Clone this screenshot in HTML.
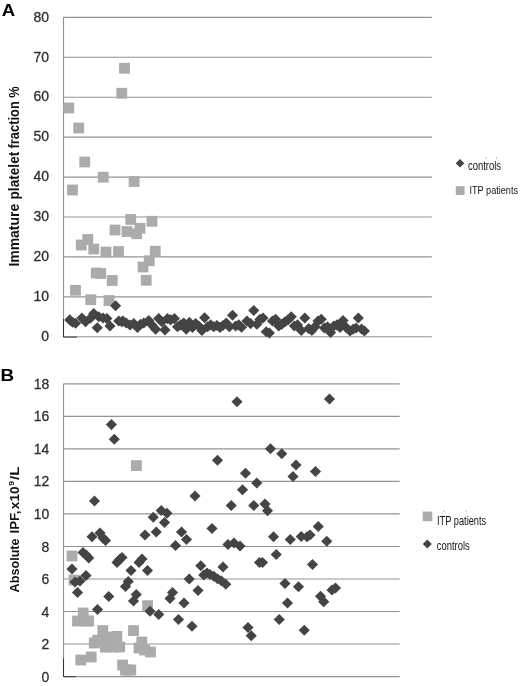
<!DOCTYPE html>
<html><head><meta charset="utf-8"><title>Figure</title>
<style>
html,body{margin:0;padding:0;background:#fff;}
body{width:520px;height:686px;overflow:hidden;font-family:"Liberation Sans",sans-serif;}
svg{display:block;}
text{font-family:"Liberation Sans",sans-serif;}
</style></head><body>
<svg width="520" height="686" viewBox="0 0 520 686">
<defs>
<filter id="tb" x="-5%" y="-5%" width="110%" height="110%" color-interpolation-filters="sRGB"><feGaussianBlur stdDeviation="0.35"/></filter>
<filter id="sb" x="-2%" y="-2%" width="104%" height="104%" color-interpolation-filters="sRGB"><feGaussianBlur stdDeviation="0.3"/></filter>
<filter id="db" x="-3%" y="-3%" width="106%" height="106%" color-interpolation-filters="sRGB"><feGaussianBlur stdDeviation="0.4"/></filter>
</defs>
<rect width="520" height="686" fill="#ffffff"/>

<g stroke="#949494" stroke-width="1.15" fill="none">
<line x1="63.5" y1="17.35" x2="431.8" y2="17.35"/>
<line x1="63.5" y1="57.28" x2="431.8" y2="57.28"/>
<line x1="63.5" y1="97.21" x2="431.8" y2="97.21"/>
<line x1="63.5" y1="137.14" x2="431.8" y2="137.14"/>
<line x1="63.5" y1="177.07" x2="431.8" y2="177.07"/>
<line x1="63.5" y1="217.00" x2="431.8" y2="217.00"/>
<line x1="63.5" y1="256.93" x2="431.8" y2="256.93"/>
<line x1="63.5" y1="296.86" x2="431.8" y2="296.86"/>
<line x1="63.5" y1="336.79" x2="431.8" y2="336.79"/>
<line x1="63.5" y1="17.35" x2="63.5" y2="336.8"/>
<line x1="63.5" y1="383.80" x2="399.7" y2="383.80"/>
<line x1="63.5" y1="416.33" x2="399.7" y2="416.33"/>
<line x1="63.5" y1="448.86" x2="399.7" y2="448.86"/>
<line x1="63.5" y1="481.39" x2="399.7" y2="481.39"/>
<line x1="63.5" y1="513.92" x2="399.7" y2="513.92"/>
<line x1="63.5" y1="546.45" x2="399.7" y2="546.45"/>
<line x1="63.5" y1="578.98" x2="399.7" y2="578.98"/>
<line x1="63.5" y1="611.51" x2="399.7" y2="611.51"/>
<line x1="63.5" y1="644.04" x2="399.7" y2="644.04"/>
<line x1="63.5" y1="676.57" x2="399.7" y2="676.57"/>
<line x1="63.5" y1="383.8" x2="63.5" y2="676.5"/>
</g>
<g stroke="#2a2a2a" stroke-width="0.9" fill="none">
<path d="M63.5 319V337.1H77"/>
<path d="M63.5 658.5V676.7H76"/>
</g>
<g fill="#ababab" filter="url(#db)">
<rect x="119.10" y="62.85" width="10.8" height="10.8"/>
<rect x="116.35" y="87.85" width="10.8" height="10.8"/>
<rect x="63.35" y="102.60" width="10.8" height="10.8"/>
<rect x="73.35" y="122.60" width="10.8" height="10.8"/>
<rect x="79.35" y="156.60" width="10.8" height="10.8"/>
<rect x="97.85" y="171.80" width="10.8" height="10.8"/>
<rect x="128.70" y="176.10" width="10.8" height="10.8"/>
<rect x="67.10" y="184.60" width="10.8" height="10.8"/>
<rect x="125.35" y="214.10" width="10.8" height="10.8"/>
<rect x="146.60" y="215.85" width="10.8" height="10.8"/>
<rect x="109.60" y="224.60" width="10.8" height="10.8"/>
<rect x="134.60" y="222.85" width="10.8" height="10.8"/>
<rect x="121.60" y="226.10" width="10.8" height="10.8"/>
<rect x="131.35" y="228.35" width="10.8" height="10.8"/>
<rect x="82.35" y="234.10" width="10.8" height="10.8"/>
<rect x="75.85" y="239.60" width="10.8" height="10.8"/>
<rect x="88.35" y="243.60" width="10.8" height="10.8"/>
<rect x="100.60" y="246.60" width="10.8" height="10.8"/>
<rect x="113.10" y="246.10" width="10.8" height="10.8"/>
<rect x="149.85" y="245.85" width="10.8" height="10.8"/>
<rect x="143.85" y="255.35" width="10.8" height="10.8"/>
<rect x="137.60" y="261.60" width="10.8" height="10.8"/>
<rect x="90.85" y="267.60" width="10.8" height="10.8"/>
<rect x="95.35" y="268.10" width="10.8" height="10.8"/>
<rect x="106.85" y="275.10" width="10.8" height="10.8"/>
<rect x="140.85" y="274.85" width="10.8" height="10.8"/>
<rect x="70.10" y="284.85" width="10.8" height="10.8"/>
<rect x="85.35" y="294.35" width="10.8" height="10.8"/>
<rect x="103.60" y="295.10" width="10.8" height="10.8"/>
</g>
<g fill="#444444" filter="url(#db)">
<path d="M69.75 314.35L75.30 319.90L69.75 325.45L64.20 319.90Z"/>
<path d="M72.60 316.65L78.15 322.20L72.60 327.75L67.05 322.20Z"/>
<path d="M75.60 317.75L81.15 323.30L75.60 328.85L70.05 323.30Z"/>
<path d="M81.90 312.45L87.45 318.00L81.90 323.55L76.35 318.00Z"/>
<path d="M85.60 316.20L91.15 321.75L85.60 327.30L80.05 321.75Z"/>
<path d="M90.60 312.45L96.15 318.00L90.60 323.55L85.05 318.00Z"/>
<path d="M93.75 308.05L99.30 313.60L93.75 319.15L88.20 313.60Z"/>
<path d="M97.25 322.20L102.80 327.75L97.25 333.30L91.70 327.75Z"/>
<path d="M98.75 311.20L104.30 316.75L98.75 322.30L93.20 316.75Z"/>
<path d="M103.00 312.45L108.55 318.00L103.00 323.55L97.45 318.00Z"/>
<path d="M106.90 313.05L112.45 318.60L106.90 324.15L101.35 318.60Z"/>
<path d="M110.00 320.45L115.55 326.00L110.00 331.55L104.45 326.00Z"/>
<path d="M115.60 300.20L121.15 305.75L115.60 311.30L110.05 305.75Z"/>
<path d="M118.75 315.45L124.30 321.00L118.75 326.55L113.20 321.00Z"/>
<path d="M123.00 315.45L128.55 321.00L123.00 326.55L117.45 321.00Z"/>
<path d="M121.90 316.20L127.45 321.75L121.90 327.30L116.35 321.75Z"/>
<path d="M126.25 317.45L131.80 323.00L126.25 328.55L120.70 323.00Z"/>
<path d="M130.00 319.45L135.55 325.00L130.00 330.55L124.45 325.00Z"/>
<path d="M133.75 318.05L139.30 323.60L133.75 329.15L128.20 323.60Z"/>
<path d="M137.50 321.85L143.05 327.40L137.50 332.95L131.95 327.40Z"/>
<path d="M140.60 318.70L146.15 324.25L140.60 329.80L135.05 324.25Z"/>
<path d="M143.75 317.45L149.30 323.00L143.75 328.55L138.20 323.00Z"/>
<path d="M148.75 314.95L154.30 320.50L148.75 326.05L143.20 320.50Z"/>
<path d="M151.90 319.35L157.45 324.90L151.90 330.45L146.35 324.90Z"/>
<path d="M155.60 323.70L161.15 329.25L155.60 334.80L150.05 329.25Z"/>
<path d="M158.75 313.05L164.30 318.60L158.75 324.15L153.20 318.60Z"/>
<path d="M161.90 316.20L167.45 321.75L161.90 327.30L156.35 321.75Z"/>
<path d="M165.00 324.35L170.55 329.90L165.00 335.45L159.45 329.90Z"/>
<path d="M167.50 313.05L173.05 318.60L167.50 324.15L161.95 318.60Z"/>
<path d="M170.60 314.35L176.15 319.90L170.60 325.45L165.05 319.90Z"/>
<path d="M174.40 313.05L179.95 318.60L174.40 324.15L168.85 318.60Z"/>
<path d="M177.50 321.20L183.05 326.75L177.50 332.30L171.95 326.75Z"/>
<path d="M180.60 319.35L186.15 324.90L180.60 330.45L175.05 324.90Z"/>
<path d="M183.75 317.45L189.30 323.00L183.75 328.55L178.20 323.00Z"/>
<path d="M186.25 323.70L191.80 329.25L186.25 334.80L180.70 329.25Z"/>
<path d="M189.40 316.85L194.95 322.40L189.40 327.95L183.85 322.40Z"/>
<path d="M192.50 321.85L198.05 327.40L192.50 332.95L186.95 327.40Z"/>
<path d="M195.60 318.05L201.15 323.60L195.60 329.15L190.05 323.60Z"/>
<path d="M198.75 320.45L204.30 326.00L198.75 331.55L193.20 326.00Z"/>
<path d="M201.90 324.95L207.45 330.50L201.90 336.05L196.35 330.50Z"/>
<path d="M204.60 312.20L210.15 317.75L204.60 323.30L199.05 317.75Z"/>
<path d="M207.50 321.20L213.05 326.75L207.50 332.30L201.95 326.75Z"/>
<path d="M210.60 319.35L216.15 324.90L210.60 330.45L205.05 324.90Z"/>
<path d="M213.75 321.20L219.30 326.75L213.75 332.30L208.20 326.75Z"/>
<path d="M216.90 319.95L222.45 325.50L216.90 331.05L211.35 325.50Z"/>
<path d="M220.00 321.85L225.55 327.40L220.00 332.95L214.45 327.40Z"/>
<path d="M223.00 319.95L228.55 325.50L223.00 331.05L217.45 325.50Z"/>
<path d="M226.25 317.45L231.80 323.00L226.25 328.55L220.70 323.00Z"/>
<path d="M229.40 321.20L234.95 326.75L229.40 332.30L223.85 326.75Z"/>
<path d="M232.50 309.70L238.05 315.25L232.50 320.80L226.95 315.25Z"/>
<path d="M235.60 320.45L241.15 326.00L235.60 331.55L230.05 326.00Z"/>
<path d="M238.75 319.35L244.30 324.90L238.75 330.45L233.20 324.90Z"/>
<path d="M241.50 321.65L247.05 327.20L241.50 332.75L235.95 327.20Z"/>
<path d="M246.90 315.45L252.45 321.00L246.90 326.55L241.35 321.00Z"/>
<path d="M250.60 318.05L256.15 323.60L250.60 329.15L245.05 323.60Z"/>
<path d="M253.75 304.95L259.30 310.50L253.75 316.05L248.20 310.50Z"/>
<path d="M256.90 318.70L262.45 324.25L256.90 329.80L251.35 324.25Z"/>
<path d="M260.00 313.70L265.55 319.25L260.00 324.80L254.45 319.25Z"/>
<path d="M263.00 312.45L268.55 318.00L263.00 323.55L257.45 318.00Z"/>
<path d="M266.25 326.20L271.80 331.75L266.25 337.30L260.70 331.75Z"/>
<path d="M269.40 327.45L274.95 333.00L269.40 338.55L263.85 333.00Z"/>
<path d="M272.50 315.45L278.05 321.00L272.50 326.55L266.95 321.00Z"/>
<path d="M275.60 313.70L281.15 319.25L275.60 324.80L270.05 319.25Z"/>
<path d="M278.75 320.45L284.30 326.00L278.75 331.55L273.20 326.00Z"/>
<path d="M281.90 318.70L287.45 324.25L281.90 329.80L276.35 324.25Z"/>
<path d="M285.00 316.20L290.55 321.75L285.00 327.30L279.45 321.75Z"/>
<path d="M288.00 314.35L293.55 319.90L288.00 325.45L282.45 319.90Z"/>
<path d="M291.25 311.20L296.80 316.75L291.25 322.30L285.70 316.75Z"/>
<path d="M294.40 320.45L299.95 326.00L294.40 331.55L288.85 326.00Z"/>
<path d="M297.50 319.35L303.05 324.90L297.50 330.45L291.95 324.90Z"/>
<path d="M301.25 324.95L306.80 330.50L301.25 336.05L295.70 330.50Z"/>
<path d="M304.80 312.45L310.35 318.00L304.80 323.55L299.25 318.00Z"/>
<path d="M308.75 323.05L314.30 328.60L308.75 334.15L303.20 328.60Z"/>
<path d="M311.90 324.95L317.45 330.50L311.90 336.05L306.35 330.50Z"/>
<path d="M315.00 321.20L320.55 326.75L315.00 332.30L309.45 326.75Z"/>
<path d="M318.00 315.45L323.55 321.00L318.00 326.55L312.45 321.00Z"/>
<path d="M321.25 313.70L326.80 319.25L321.25 324.80L315.70 319.25Z"/>
<path d="M324.40 322.45L329.95 328.00L324.40 333.55L318.85 328.00Z"/>
<path d="M327.50 321.20L333.05 326.75L327.50 332.30L321.95 326.75Z"/>
<path d="M330.60 326.85L336.15 332.40L330.60 337.95L325.05 332.40Z"/>
<path d="M333.75 320.45L339.30 326.00L333.75 331.55L328.20 326.00Z"/>
<path d="M336.90 319.35L342.45 324.90L336.90 330.45L331.35 324.90Z"/>
<path d="M340.00 321.85L345.55 327.40L340.00 332.95L334.45 327.40Z"/>
<path d="M343.00 314.95L348.55 320.50L343.00 326.05L337.45 320.50Z"/>
<path d="M346.25 322.05L351.80 327.60L346.25 333.15L340.70 327.60Z"/>
<path d="M350.00 325.45L355.55 331.00L350.00 336.55L344.45 331.00Z"/>
<path d="M353.00 323.70L358.55 329.25L353.00 334.80L347.45 329.25Z"/>
<path d="M356.00 322.45L361.55 328.00L356.00 333.55L350.45 328.00Z"/>
<path d="M358.30 312.45L363.85 318.00L358.30 323.55L352.75 318.00Z"/>
<path d="M361.50 323.45L367.05 329.00L361.50 334.55L355.95 329.00Z"/>
<path d="M364.40 325.45L369.95 331.00L364.40 336.55L358.85 331.00Z"/>
</g>
<g fill="#ababab" filter="url(#db)">
<rect x="66.60" y="550.60" width="10.8" height="10.8"/>
<rect x="68.60" y="574.60" width="10.8" height="10.8"/>
<rect x="72.10" y="615.60" width="10.8" height="10.8"/>
<rect x="75.30" y="654.60" width="10.8" height="10.8"/>
<rect x="77.80" y="607.60" width="10.8" height="10.8"/>
<rect x="80.60" y="615.60" width="10.8" height="10.8"/>
<rect x="83.30" y="615.60" width="10.8" height="10.8"/>
<rect x="85.80" y="651.60" width="10.8" height="10.8"/>
<rect x="88.90" y="637.60" width="10.8" height="10.8"/>
<rect x="92.20" y="634.80" width="10.8" height="10.8"/>
<rect x="94.60" y="635.60" width="10.8" height="10.8"/>
<rect x="97.40" y="625.20" width="10.8" height="10.8"/>
<rect x="100.10" y="641.80" width="10.8" height="10.8"/>
<rect x="102.60" y="631.60" width="10.8" height="10.8"/>
<rect x="105.60" y="639.60" width="10.8" height="10.8"/>
<rect x="108.60" y="641.60" width="10.8" height="10.8"/>
<rect x="111.40" y="631.00" width="10.8" height="10.8"/>
<rect x="114.30" y="641.60" width="10.8" height="10.8"/>
<rect x="117.20" y="659.60" width="10.8" height="10.8"/>
<rect x="120.10" y="664.60" width="10.8" height="10.8"/>
<rect x="122.60" y="664.60" width="10.8" height="10.8"/>
<rect x="125.40" y="664.60" width="10.8" height="10.8"/>
<rect x="128.10" y="625.20" width="10.8" height="10.8"/>
<rect x="131.00" y="460.20" width="10.8" height="10.8"/>
<rect x="133.60" y="642.60" width="10.8" height="10.8"/>
<rect x="136.40" y="636.60" width="10.8" height="10.8"/>
<rect x="139.10" y="644.60" width="10.8" height="10.8"/>
<rect x="142.20" y="600.20" width="10.8" height="10.8"/>
<rect x="145.10" y="646.60" width="10.8" height="10.8"/>
</g>
<g fill="#444444" filter="url(#db)">
<path d="M72.00 563.45L77.55 569.00L72.00 574.55L66.45 569.00Z"/>
<path d="M75.00 576.45L80.55 582.00L75.00 587.55L69.45 582.00Z"/>
<path d="M77.50 586.95L83.05 592.50L77.50 598.05L71.95 592.50Z"/>
<path d="M80.00 575.45L85.55 581.00L80.00 586.55L74.45 581.00Z"/>
<path d="M83.00 546.95L88.55 552.50L83.00 558.05L77.45 552.50Z"/>
<path d="M86.25 549.45L91.80 555.00L86.25 560.55L80.70 555.00Z"/>
<path d="M88.75 552.45L94.30 558.00L88.75 563.55L83.20 558.00Z"/>
<path d="M86.00 569.95L91.55 575.50L86.00 581.05L80.45 575.50Z"/>
<path d="M92.00 531.20L97.55 536.75L92.00 542.30L86.45 536.75Z"/>
<path d="M94.50 495.45L100.05 501.00L94.50 506.55L88.95 501.00Z"/>
<path d="M97.50 603.95L103.05 609.50L97.50 615.05L91.95 609.50Z"/>
<path d="M100.00 527.45L105.55 533.00L100.00 538.55L94.45 533.00Z"/>
<path d="M103.00 532.45L108.55 538.00L103.00 543.55L97.45 538.00Z"/>
<path d="M105.50 534.95L111.05 540.50L105.50 546.05L99.95 540.50Z"/>
<path d="M108.75 590.95L114.30 596.50L108.75 602.05L103.20 596.50Z"/>
<path d="M111.40 419.05L116.95 424.60L111.40 430.15L105.85 424.60Z"/>
<path d="M114.30 433.75L119.85 439.30L114.30 444.85L108.75 439.30Z"/>
<path d="M117.00 556.95L122.55 562.50L117.00 568.05L111.45 562.50Z"/>
<path d="M119.50 553.95L125.05 559.50L119.50 565.05L113.95 559.50Z"/>
<path d="M122.00 551.95L127.55 557.50L122.00 563.05L116.45 557.50Z"/>
<path d="M125.50 580.95L131.05 586.50L125.50 592.05L119.95 586.50Z"/>
<path d="M128.25 575.95L133.80 581.50L128.25 587.05L122.70 581.50Z"/>
<path d="M131.00 564.95L136.55 570.50L131.00 576.05L125.45 570.50Z"/>
<path d="M133.50 595.45L139.05 601.00L133.50 606.55L127.95 601.00Z"/>
<path d="M136.25 588.95L141.80 594.50L136.25 600.05L130.70 594.50Z"/>
<path d="M139.00 556.95L144.55 562.50L139.00 568.05L133.45 562.50Z"/>
<path d="M142.00 553.45L147.55 559.00L142.00 564.55L136.45 559.00Z"/>
<path d="M145.00 529.45L150.55 535.00L145.00 540.55L139.45 535.00Z"/>
<path d="M147.50 564.95L153.05 570.50L147.50 576.05L141.95 570.50Z"/>
<path d="M150.00 605.70L155.55 611.25L150.00 616.80L144.45 611.25Z"/>
<path d="M153.25 511.70L158.80 517.25L153.25 522.80L147.70 517.25Z"/>
<path d="M156.25 526.45L161.80 532.00L156.25 537.55L150.70 532.00Z"/>
<path d="M158.75 608.95L164.30 614.50L158.75 620.05L153.20 614.50Z"/>
<path d="M161.25 504.95L166.80 510.50L161.25 516.05L155.70 510.50Z"/>
<path d="M164.50 516.95L170.05 522.50L164.50 528.05L158.95 522.50Z"/>
<path d="M167.00 507.70L172.55 513.25L167.00 518.80L161.45 513.25Z"/>
<path d="M170.00 592.95L175.55 598.50L170.00 604.05L164.45 598.50Z"/>
<path d="M172.50 586.95L178.05 592.50L172.50 598.05L166.95 592.50Z"/>
<path d="M175.50 539.95L181.05 545.50L175.50 551.05L169.95 545.50Z"/>
<path d="M178.50 613.95L184.05 619.50L178.50 625.05L172.95 619.50Z"/>
<path d="M181.50 526.45L187.05 532.00L181.50 537.55L175.95 532.00Z"/>
<path d="M184.00 597.45L189.55 603.00L184.00 608.55L178.45 603.00Z"/>
<path d="M186.50 533.95L192.05 539.50L186.50 545.05L180.95 539.50Z"/>
<path d="M189.25 573.45L194.80 579.00L189.25 584.55L183.70 579.00Z"/>
<path d="M192.00 620.70L197.55 626.25L192.00 631.80L186.45 626.25Z"/>
<path d="M195.00 490.45L200.55 496.00L195.00 501.55L189.45 496.00Z"/>
<path d="M198.00 584.95L203.55 590.50L198.00 596.05L192.45 590.50Z"/>
<path d="M200.75 560.20L206.30 565.75L200.75 571.30L195.20 565.75Z"/>
<path d="M203.75 569.45L209.30 575.00L203.75 580.55L198.20 575.00Z"/>
<path d="M207.00 567.45L212.55 573.00L207.00 578.55L201.45 573.00Z"/>
<path d="M210.00 568.95L215.55 574.50L210.00 580.05L204.45 574.50Z"/>
<path d="M213.75 570.70L219.30 576.25L213.75 581.80L208.20 576.25Z"/>
<path d="M212.00 522.95L217.55 528.50L212.00 534.05L206.45 528.50Z"/>
<path d="M217.50 454.70L223.05 460.25L217.50 465.80L211.95 460.25Z"/>
<path d="M217.50 573.20L223.05 578.75L217.50 584.30L211.95 578.75Z"/>
<path d="M221.25 575.20L226.80 580.75L221.25 586.30L215.70 580.75Z"/>
<path d="M223.00 561.45L228.55 567.00L223.00 572.55L217.45 567.00Z"/>
<path d="M225.75 578.70L231.30 584.25L225.75 589.80L220.20 584.25Z"/>
<path d="M228.00 538.95L233.55 544.50L228.00 550.05L222.45 544.50Z"/>
<path d="M231.25 499.95L236.80 505.50L231.25 511.05L225.70 505.50Z"/>
<path d="M234.00 537.45L239.55 543.00L234.00 548.55L228.45 543.00Z"/>
<path d="M237.00 396.20L242.55 401.75L237.00 407.30L231.45 401.75Z"/>
<path d="M240.00 540.45L245.55 546.00L240.00 551.55L234.45 546.00Z"/>
<path d="M242.50 484.20L248.05 489.75L242.50 495.30L236.95 489.75Z"/>
<path d="M245.50 467.70L251.05 473.25L245.50 478.80L239.95 473.25Z"/>
<path d="M248.00 621.95L253.55 627.50L248.00 633.05L242.45 627.50Z"/>
<path d="M251.25 630.20L256.80 635.75L251.25 641.30L245.70 635.75Z"/>
<path d="M253.75 499.95L259.30 505.50L253.75 511.05L248.20 505.50Z"/>
<path d="M256.75 477.45L262.30 483.00L256.75 488.55L251.20 483.00Z"/>
<path d="M259.50 556.95L265.05 562.50L259.50 568.05L253.95 562.50Z"/>
<path d="M262.50 556.95L268.05 562.50L262.50 568.05L256.95 562.50Z"/>
<path d="M265.00 498.45L270.55 504.00L265.00 509.55L259.45 504.00Z"/>
<path d="M267.50 505.20L273.05 510.75L267.50 516.30L261.95 510.75Z"/>
<path d="M270.50 443.20L276.05 448.75L270.50 454.30L264.95 448.75Z"/>
<path d="M273.50 531.20L279.05 536.75L273.50 542.30L267.95 536.75Z"/>
<path d="M276.25 548.95L281.80 554.50L276.25 560.05L270.70 554.50Z"/>
<path d="M279.25 613.95L284.80 619.50L279.25 625.05L273.70 619.50Z"/>
<path d="M281.75 448.20L287.30 453.75L281.75 459.30L276.20 453.75Z"/>
<path d="M285.00 577.95L290.55 583.50L285.00 589.05L279.45 583.50Z"/>
<path d="M287.50 597.45L293.05 603.00L287.50 608.55L281.95 603.00Z"/>
<path d="M290.25 533.95L295.80 539.50L290.25 545.05L284.70 539.50Z"/>
<path d="M293.00 470.95L298.55 476.50L293.00 482.05L287.45 476.50Z"/>
<path d="M296.00 459.45L301.55 465.00L296.00 470.55L290.45 465.00Z"/>
<path d="M298.50 581.20L304.05 586.75L298.50 592.30L292.95 586.75Z"/>
<path d="M301.25 530.95L306.80 536.50L301.25 542.05L295.70 536.50Z"/>
<path d="M304.25 624.70L309.80 630.25L304.25 635.80L298.70 630.25Z"/>
<path d="M307.00 531.20L312.55 536.75L307.00 542.30L301.45 536.75Z"/>
<path d="M310.00 529.45L315.55 535.00L310.00 540.55L304.45 535.00Z"/>
<path d="M312.50 558.95L318.05 564.50L312.50 570.05L306.95 564.50Z"/>
<path d="M315.50 465.95L321.05 471.50L315.50 477.05L309.95 471.50Z"/>
<path d="M318.25 520.95L323.80 526.50L318.25 532.05L312.70 526.50Z"/>
<path d="M320.50 590.70L326.05 596.25L320.50 601.80L314.95 596.25Z"/>
<path d="M323.75 596.20L329.30 601.75L323.75 607.30L318.20 601.75Z"/>
<path d="M326.75 535.70L332.30 541.25L326.75 546.80L321.20 541.25Z"/>
<path d="M329.50 393.45L335.05 399.00L329.50 404.55L323.95 399.00Z"/>
<path d="M332.00 584.45L337.55 590.00L332.00 595.55L326.45 590.00Z"/>
<path d="M335.50 582.45L341.05 588.00L335.50 593.55L329.95 588.00Z"/>
</g>
<g fill="#2c2c2c" font-size="14.8" text-anchor="end" filter="url(#tb)" stroke="#2c2c2c" stroke-width="0.28">
<text x="49.1" y="21.6" textLength="15.56" lengthAdjust="spacingAndGlyphs">80</text>
<text x="49.1" y="61.5" textLength="15.56" lengthAdjust="spacingAndGlyphs">70</text>
<text x="49.1" y="101.4" textLength="15.56" lengthAdjust="spacingAndGlyphs">60</text>
<text x="49.1" y="141.3" textLength="15.56" lengthAdjust="spacingAndGlyphs">50</text>
<text x="49.1" y="181.3" textLength="15.56" lengthAdjust="spacingAndGlyphs">40</text>
<text x="49.1" y="221.2" textLength="15.56" lengthAdjust="spacingAndGlyphs">30</text>
<text x="49.1" y="261.1" textLength="15.56" lengthAdjust="spacingAndGlyphs">20</text>
<text x="49.1" y="301.1" textLength="15.56" lengthAdjust="spacingAndGlyphs">10</text>
<text x="49.1" y="341.0" textLength="7.78" lengthAdjust="spacingAndGlyphs">0</text>
<text x="49.3" y="388.8" textLength="15.56" lengthAdjust="spacingAndGlyphs">18</text>
<text x="49.3" y="421.3" textLength="15.56" lengthAdjust="spacingAndGlyphs">16</text>
<text x="49.3" y="453.9" textLength="15.56" lengthAdjust="spacingAndGlyphs">14</text>
<text x="49.3" y="486.4" textLength="15.56" lengthAdjust="spacingAndGlyphs">12</text>
<text x="49.3" y="518.9" textLength="15.56" lengthAdjust="spacingAndGlyphs">10</text>
<text x="49.3" y="551.5" textLength="7.78" lengthAdjust="spacingAndGlyphs">8</text>
<text x="49.3" y="584.0" textLength="7.78" lengthAdjust="spacingAndGlyphs">6</text>
<text x="49.3" y="616.5" textLength="7.78" lengthAdjust="spacingAndGlyphs">4</text>
<text x="49.3" y="649.0" textLength="7.78" lengthAdjust="spacingAndGlyphs">2</text>
<text x="49.3" y="681.6" textLength="7.78" lengthAdjust="spacingAndGlyphs">0</text>
</g>
<g fill="#000" font-weight="bold" font-size="17" filter="url(#tb)">
<text x="1.7" y="16.2" textLength="13.4" lengthAdjust="spacingAndGlyphs">A</text>
<text x="0.5" y="381.4" textLength="13.6" lengthAdjust="spacingAndGlyphs">B</text>
</g>
<g fill="#111" font-weight="bold" font-size="12.5" filter="url(#tb)">
<text transform="translate(19.1 266.6) rotate(-90)" font-size="14.2" textLength="62.8" lengthAdjust="spacingAndGlyphs">Immature</text>
<text transform="translate(19.1 199.5) rotate(-90)" font-size="14.2" textLength="47.8" lengthAdjust="spacingAndGlyphs">platelet</text>
<text transform="translate(19.1 148.5) rotate(-90)" font-size="14.2" textLength="62.3" lengthAdjust="spacingAndGlyphs">fraction %</text>
<text transform="translate(19.3 592.4) rotate(-90)" font-size="12.9" textLength="54" lengthAdjust="spacingAndGlyphs">Absolute</text>
<text transform="translate(19.3 533.5) rotate(-90)" font-size="12.9" textLength="23" lengthAdjust="spacingAndGlyphs">IPF,</text>
<text transform="translate(19.3 509.2) rotate(-90)" font-size="12.9" textLength="22.8" lengthAdjust="spacingAndGlyphs">x10</text>
<text transform="translate(13.9 485.8) rotate(-90)" font-size="7.6" textLength="4.8" lengthAdjust="spacingAndGlyphs">9</text>
<text transform="translate(19.3 480) rotate(-90)" font-size="12.9" textLength="13.6" lengthAdjust="spacingAndGlyphs">/L</text>
</g>
<g fill="#444444" filter="url(#sb)">
<path d="M460.00 158.90L464.30 163.20L460.00 167.50L455.70 163.20Z"/>
<path d="M427.30 539.60L431.80 544.10L427.30 548.60L422.80 544.10Z"/>
</g>
<g fill="#777" filter="url(#sb)"><rect x="485.3" y="157.6" width="0.9" height="0.9"/><rect x="496.1" y="157.6" width="0.9" height="0.9"/><rect x="443.8" y="510.7" width="0.9" height="0.9"/><rect x="465.8" y="510.7" width="0.9" height="0.9"/></g>
<g fill="#ababab" filter="url(#sb)">
<rect x="455.80" y="186.20" width="8.8" height="8.8"/>
<rect x="422.70" y="511.60" width="9.6" height="9.6"/>
</g>
<g fill="#141414" font-size="12" filter="url(#sb)">
<text x="467.9" y="170.1" textLength="33.2" lengthAdjust="spacingAndGlyphs">controls</text>
<text x="469.5" y="194.2" font-size="10.9" textLength="48.5" lengthAdjust="spacingAndGlyphs">ITP patients</text>
<text x="437" y="524.5" textLength="49.2" lengthAdjust="spacingAndGlyphs">ITP patients</text>
<text x="436.8" y="550.1" textLength="33" lengthAdjust="spacingAndGlyphs">controls</text>
</g>
</svg>
</body></html>
